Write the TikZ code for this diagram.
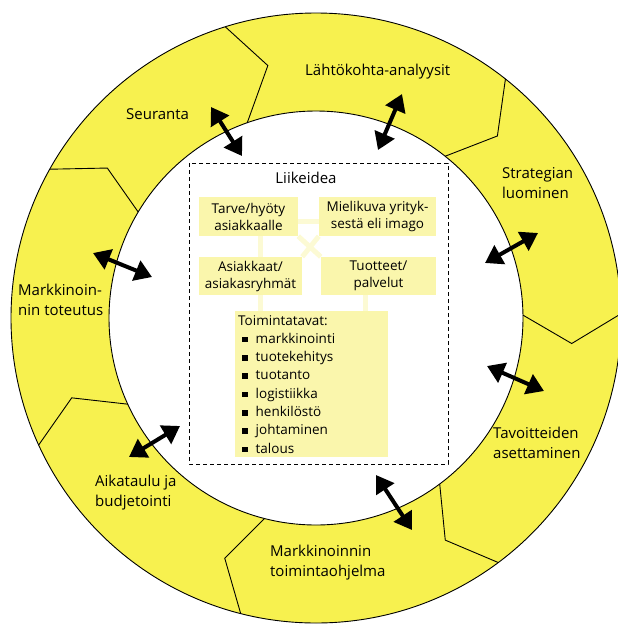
\documentclass[tikz,border=0pt]{standalone}
\usepackage{fontspec}
\setmainfont{Open Sans}
\usetikzlibrary{arrows.meta, positioning, calc}

\definecolor{ringyellow}{RGB}{247,241,79}
\definecolor{paleyellow}{RGB}{250,246,172}
\definecolor{linkyellow}{RGB}{252,250,212}

\tikzset{
  rim/.style={line width=0.9pt},
  phase/.style={anchor=west, align=left, inner sep=0pt, font=\fontsize{15}{20}\selectfont},
  idea/.style={fill=paleyellow, inner sep=0pt, align=center, font=\fontsize{13.5}{17}\selectfont},
  link/.style={linkyellow, line width=5pt},
  twoway/.style={line width=4pt, {Triangle[length=17pt,width=21pt]}-{Triangle[length=17pt,width=21pt]}},
}
\newcommand{\tapa}[1]{\\\hspace*{4pt}\rule[1pt]{5.5pt}{5.5pt}\hspace{8pt}#1}

\begin{document}
\begin{tikzpicture}[x=1pt, y=1pt]
    \useasboundingbox (0,0) rectangle (618,-625);

    % Rengas
    \coordinate (c) at (316,-318);
    \fill[ringyellow, even odd rule] (c) circle (305pt) (c) circle (207pt);
    \draw[rim] (c) circle (305pt);
    \draw[rim] (c) circle (207pt);

    % Vaiheiden rajat
    \foreach \ao/\ai in {107.3/109.4, 51.6/51.4, 0.8/0.8, -53.3/-53.3, -104.3/-104.4, -155.4/-155.4, 150.8/149.2}
        \draw[rim] ($(c)+(\ao:305pt)$) -- ($(c)+(\ao-6.5:257pt)$) -- ($(c)+(\ai:207pt)$);

    % Vaiheet
    \node[phase] (lahto) at (305,-72) {Lähtökohta-analyysit};
    \node[phase] (strat) at (502,-183) {Strategian\\luominen};
    \node[phase] (tavo) at (493,-443) {Tavoitteiden\\asettaminen};
    \node[phase] (mtoim) at (270,-563) {Markkinoinnin\\toimintaohjelma};
    \node[phase] (aika) at (95,-493) {Aikataulu ja\\budjetointi};
    \node[phase] (mtot) at (18,-300) {Markkinoin-\\nin toteutus};
    \node[phase] (seur) at (126,-114) {Seuranta};

    % Liikeidea
    \draw[line width=0.9pt, dash pattern=on 4pt off 3pt] (189,-163) rectangle (448,-464);
    \node[font=\fontsize{15}{18}\selectfont] (liike) at (306,-178) {Liikeidea};

    \node[idea, minimum width=99pt, minimum height=39pt] (tarve) at (248.5,-216.5) {Tarve/hyöty\\asiakkaalle};
    \node[idea, minimum width=117pt, minimum height=39pt] (mieli) at (377.5,-216.5) {Mielikuva yrityk-\\sestä eli imago};
    \node[idea, minimum width=103pt, minimum height=38pt] (asiak) at (250.5,-276) {Asiakkaat/\\asiakasryhmät};
    \node[idea, minimum width=115pt, minimum height=38pt] (tuote) at (378.5,-276) {Tuotteet/\\palvelut};
    \node[idea, align=left, anchor=north west, minimum width=153pt, minimum height=146pt,
          text width=147pt, inner xsep=3pt, font=\fontsize{13.5}{18.3}\selectfont] (toimi) at (235,-311)
        {Toimintatavat:\tapa{markkinointi}\tapa{tuotekehitys}\tapa{tuotanto}\tapa{logistiikka}\tapa{henkilöstö}\tapa{johtaminen}\tapa{talous}};

    % Yhteydet
    \draw[link] ([yshift=-5pt]tarve.east) -- ([yshift=-5pt]mieli.west);
    \draw[link] ([xshift=11.5pt]tarve.south) -- ([xshift=9.5pt]asiak.north);
    \draw[link] (tarve.south east) -- (tuote.north west);
    \draw[link] (mieli.south west) -- (asiak.north east);
    \draw[link] ([xshift=9.5pt]asiak.south) -- ([xshift=9.5pt]asiak.south |- toimi.north);
    \draw[link] ([xshift=-13.5pt]tuote.south) -- ([xshift=-13.5pt]tuote.south |- toimi.north);

    % Nuolet
    \coordinate (p1a) at (211,-107);  \coordinate (p1b) at (242,-156);
    \coordinate (p2a) at (402,-94);   \coordinate (p2b) at (378,-150);
    \coordinate (p3a) at (538,-233);  \coordinate (p3b) at (485,-263);
    \coordinate (p4a) at (487,-366);  \coordinate (p4b) at (544,-391);
    \coordinate (p5a) at (376,-475);  \coordinate (p5b) at (412,-530);
    \coordinate (p6a) at (180,-426);  \coordinate (p6b) at (129,-457);
    \coordinate (p7a) at (93,-253);   \coordinate (p7b) at (152,-277);
    \foreach \n in {1,...,7}
        \draw[twoway] (p\n a) -- (p\n b);
\end{tikzpicture}
\end{document}
